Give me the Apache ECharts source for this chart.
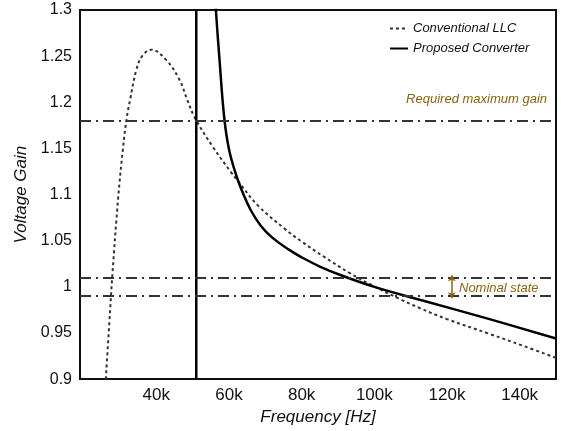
<!DOCTYPE html>
<html>
<head>
<meta charset="utf-8">
<script src="https://cdn.jsdelivr.net/npm/echarts@6/dist/echarts.min.js"></script>
<style>
  html, body { margin: 0; padding: 0; background: #fff; }
  #chart { width: 561px; height: 431px; }
</style>
</head>
<body>
<div id="chart"></div>
<script>
// frequency in kHz, gain
const conventionalLLC = [
  [26.1, 0.9], [27.5, 0.988], [27.9, 1.013], [29.5, 1.096], [30.8, 1.149],
  [31.9, 1.184], [32.8, 1.203], [34.5, 1.235], [36.1, 1.250], [38.6, 1.257],
  [42.7, 1.246], [46.3, 1.225], [48.5, 1.203], [50.5, 1.184], [55.5, 1.152],
  [60.6, 1.124], [62.4, 1.115], [68.0, 1.088], [75.3, 1.063], [80.0, 1.049],
  [86.0, 1.033], [93.2, 1.015], [99.2, 1.002], [106.9, 0.987], [112.5, 0.977],
  [120.0, 0.965], [131.7, 0.949], [141.0, 0.936], [150.0, 0.923]
]
const proposedConverter = [
  [56.0, 1.33], [56.4, 1.3], [57.4, 1.246], [58.7, 1.183], [60.0, 1.149],
  [61.9, 1.122], [64.0, 1.100], [66.0, 1.083], [68.8, 1.066], [72.0, 1.053],
  [76.6, 1.040], [80.0, 1.032], [85.0, 1.022], [91.2, 1.012], [100.0, 1.0],
  [112.5, 0.986], [131.7, 0.965], [150.0, 0.944]
]
const proposedVertical = [[51.0, 0.9], [51.0, 1.3]]
const requiredMaxGain = 1.184
const nominalBand = [1.0125, 0.9875]
const bracketFreq = 121.3
const xTicks = [40, 60, 80, 100, 120, 140]

const chart = echarts.init(document.getElementById('chart'), null, { renderer: 'canvas' })

const dashDot = { color: '#333', width: 2, type: [11, 5, 2, 5] }
const noteColor = '#8a6410'
const font = 'Liberation Sans, Arial, sans-serif'

chart.setOption({
  animation: false,
  textStyle: { fontFamily: font },
  grid: { left: 80, right: 5, top: 10, bottom: 49, show: true, borderColor: '#111', borderWidth: 2 },
  legend: {
    orient: 'vertical',
    left: 384, top: 17,
    itemWidth: 18, itemHeight: 10, itemGap: 7,
    itemStyle: { opacity: 0 },
    data: ['Conventional LLC', 'Proposed Converter'],
    textStyle: { fontStyle: 'italic', fontSize: 13, color: '#111' }
  },
  xAxis: {
    type: 'value', min: 19, max: 150,
    name: 'Frequency [Hz]', nameLocation: 'middle', nameGap: 26,
    nameTextStyle: { fontStyle: 'italic', fontSize: 17, color: '#111' },
    axisLine: { lineStyle: { color: '#111', width: 2 } },
    axisTick: { show: false },
    splitLine: { show: false },
    axisLabel: {
      customValues: xTicks, fontSize: 17, color: '#111', margin: 8,
      formatter: v => v + 'k'
    }
  },
  yAxis: {
    type: 'value', min: 0.9, max: 1.3, interval: 0.05,
    name: 'Voltage Gain', nameLocation: 'middle', nameGap: 43,
    nameTextStyle: { fontStyle: 'italic', fontSize: 17, color: '#111' },
    axisLine: { show: true, lineStyle: { color: '#111', width: 2 } },
    axisTick: { show: false },
    splitLine: { show: false },
    axisLabel: {
      fontSize: 16, color: '#111', margin: 8,
      formatter: v => String(parseFloat(v.toFixed(2)))
    }
  },
  series: [
    {
      name: 'Conventional LLC', type: 'line', smooth: 0.4, symbol: 'none',
      lineStyle: { color: '#333', width: 2, type: [3, 3] },
      itemStyle: { color: '#333' },
      data: conventionalLLC,
      markLine: {
        silent: true, symbol: 'none', label: { show: false },
        lineStyle: dashDot,
        data: [{ yAxis: requiredMaxGain }, { yAxis: nominalBand[0] }, { yAxis: nominalBand[1] }]
      }
    },
    {
      name: 'Proposed Converter', type: 'line', smooth: 0.4, symbol: 'none',
      lineStyle: { color: '#000', width: 2.5 },
      itemStyle: { color: '#000' },
      data: proposedConverter,
      markLine: {
        silent: true, symbol: ['arrow', 'arrow'], symbolSize: [6, 6],
        label: { show: false },
        lineStyle: { color: noteColor, width: 1.5, type: 'solid' },
        data: [[{ coord: [bracketFreq, nominalBand[0]] }, { coord: [bracketFreq, nominalBand[1]] }]]
      }
    },
    {
      name: 'Proposed Converter', type: 'line', symbol: 'none',
      lineStyle: { color: '#000', width: 2.5 },
      itemStyle: { color: '#000' },
      data: proposedVertical
    }
  ],
  graphic: [
    {
      type: 'text', right: 14, top: 93,
      style: { text: 'Required maximum gain', fontStyle: 'italic', fontSize: 13, fill: noteColor, fontFamily: font }
    },
    {
      type: 'text', left: 459, top: 282,
      style: { text: 'Nominal state', fontStyle: 'italic', fontSize: 13, fill: noteColor, fontFamily: font }
    }
  ]
})

window.addEventListener('resize', () => chart.resize())
</script>
</body>
</html>
